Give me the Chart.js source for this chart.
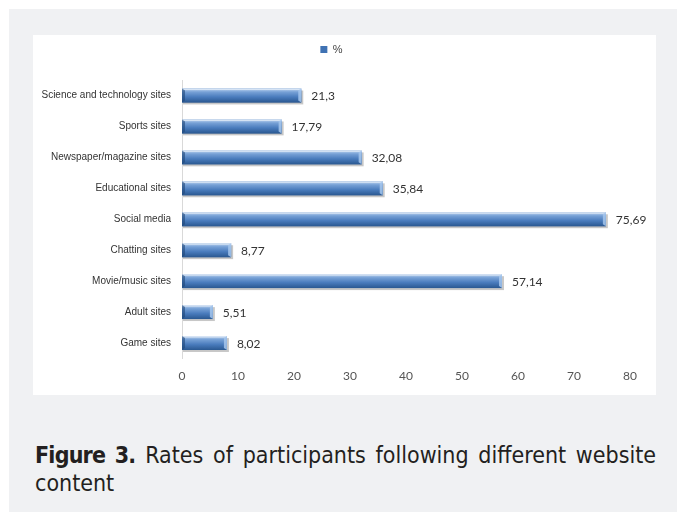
<!DOCTYPE html>
<html>
<head>
<meta charset="utf-8">
<script src="https://cdn.jsdelivr.net/npm/chart.js@4.4.1/dist/chart.umd.min.js"></script>
<style>
  html, body { margin: 0; padding: 0; background: #fff; }
  #panel { position: absolute; left: 9px; top: 9px; width: 668px; height: 503px; background: #f0f1f3; }
  #box { position: absolute; left: 24px; top: 26px; width: 623px; height: 360px; background: #fff; }
  #caption {
    position: absolute; left: 26px; top: 432px; width: 621px;
    font-family: 'DejaVu Sans Condensed', sans-serif;
    font-size: 23px; line-height: 28px; color: #231f20;
  }
  #caption .l1 { text-align: justify; text-align-last: justify; }
  #caption b { font-weight: bold; letter-spacing: -0.8px; }
</style>
</head>
<body>
<div id="panel">
  <div id="box"><canvas id="chart" width="623" height="360"></canvas></div>
  <div id="caption"><div class="l1"><b>Figure 3.</b> Rates of participants following different website</div><div>content</div></div>
</div>
<script>
const categories = [
  'Science and technology sites', 'Sports sites', 'Newspaper/magazine sites',
  'Educational sites', 'Social media', 'Chatting sites', 'Movie/music sites',
  'Adult sites', 'Game sites'
];
const percentValues = [21.3, 17.79, 32.08, 35.84, 75.69, 8.77, 57.14, 5.51, 8.02];
const xTicks = [0, 10, 20, 30, 40, 50, 60, 70, 80];

const fmt = v => String(v).replace('.', ',');

// leave some room under the legend
const legendSpace = {
  id: 'legendSpace',
  beforeLayout(chart) {
    const lg = chart.legend;
    if (lg && !lg._patched) {
      const fit = lg.fit;
      lg.fit = function () { fit.call(this); this.height += 15; };
      lg._patched = true;
    }
  }
};

// draws each bar as a bevelled gradient bar and writes its value
const bevelBars = {
  id: 'bevelBars',
  afterDatasetsDraw(chart) {
    const c = chart.ctx;
    const meta = chart.getDatasetMeta(0);
    meta.data.forEach((el, i) => {
      const p = el.getProps(['x', 'y', 'base', 'height'], true);
      const x0 = p.base, x1 = p.x, h = p.height;
      const top = p.y - h / 2, bot = p.y + h / 2;
      c.save();
      // shadow
      c.fillStyle = 'rgba(0,0,0,0.22)';
      c.fillRect(x0 + 1, top + 2, x1 - x0 + 1, h);
      // body
      const g = c.createLinearGradient(0, top, 0, bot);
      g.addColorStop(0, '#c3d8f1');
      g.addColorStop(0.25, '#77a1d6');
      g.addColorStop(0.6, '#4a7cbd');
      g.addColorStop(1, '#2a5891');
      c.fillStyle = g;
      c.fillRect(x0, top, x1 - x0, h);
      c.fillStyle = 'rgba(255,255,255,0.5)';
      c.fillRect(x0, top, x1 - x0, 1.5);
      // right end bevel
      c.beginPath();
      c.moveTo(x1 - 3, top + 2);
      c.lineTo(x1, top);
      c.lineTo(x1, bot);
      c.lineTo(x1 - 3, bot - 2);
      c.closePath();
      c.fillStyle = 'rgba(165,198,236,0.85)';
      c.fill();
      // left end bevel
      c.beginPath();
      c.moveTo(x0, top);
      c.lineTo(x0 + 3, top + 2);
      c.lineTo(x0 + 3, bot - 2);
      c.lineTo(x0, bot);
      c.closePath();
      c.fillStyle = 'rgba(30,70,120,0.6)';
      c.fill();
      c.restore();
      // value label
      c.save();
      c.font = '12px Lato, "Open Sans", sans-serif';
      c.fillStyle = '#333';
      c.textBaseline = 'middle';
      c.textAlign = 'left';
      c.fillText(fmt(percentValues[i]), x1 + 10, p.y + 1);
      c.restore();
    });
  }
};

new Chart(document.getElementById('chart').getContext('2d'), {
  type: 'bar',
  data: {
    labels: categories,
    datasets: [{
      label: '%',
      data: percentValues,
      backgroundColor: '#3f72b3',
      borderWidth: 0,
      barPercentage: 0.45,
      categoryPercentage: 1
    }]
  },
  options: {
    indexAxis: 'y',
    responsive: false,
    animation: false,
    layout: { padding: { top: 0, right: 26, left: 0, bottom: 0 } },
    plugins: {
      legend: {
        position: 'top',
        labels: {
          boxWidth: 7, boxHeight: 7, padding: 9,
          color: '#444',
          font: { family: 'Liberation Sans, Arial, sans-serif', size: 11 }
        }
      },
      tooltip: { enabled: false }
    },
    scales: {
      x: {
        min: 0, max: 80,
        afterBuildTicks: axis => { axis.ticks = xTicks.map(v => ({ value: v })); },
        grid: { display: false, drawTicks: false },
        border: { display: false },
        ticks: {
          padding: 10,
          color: '#555',
          font: { family: 'Lato, "Open Sans", sans-serif', size: 12 }
        },
        afterFit: axis => { axis.height = 36.5; }
      },
      y: {
        grid: { display: false, drawTicks: false },
        border: { display: true, color: '#d9d9d9', width: 1 },
        ticks: {
          padding: 11,
          color: '#333',
          font: { family: 'Liberation Sans, Arial, sans-serif', size: 10 }
        },
        afterFit: axis => { axis.width = 149; }
      }
    }
  },
  plugins: [legendSpace, bevelBars]
});
</script>
</body>
</html>
